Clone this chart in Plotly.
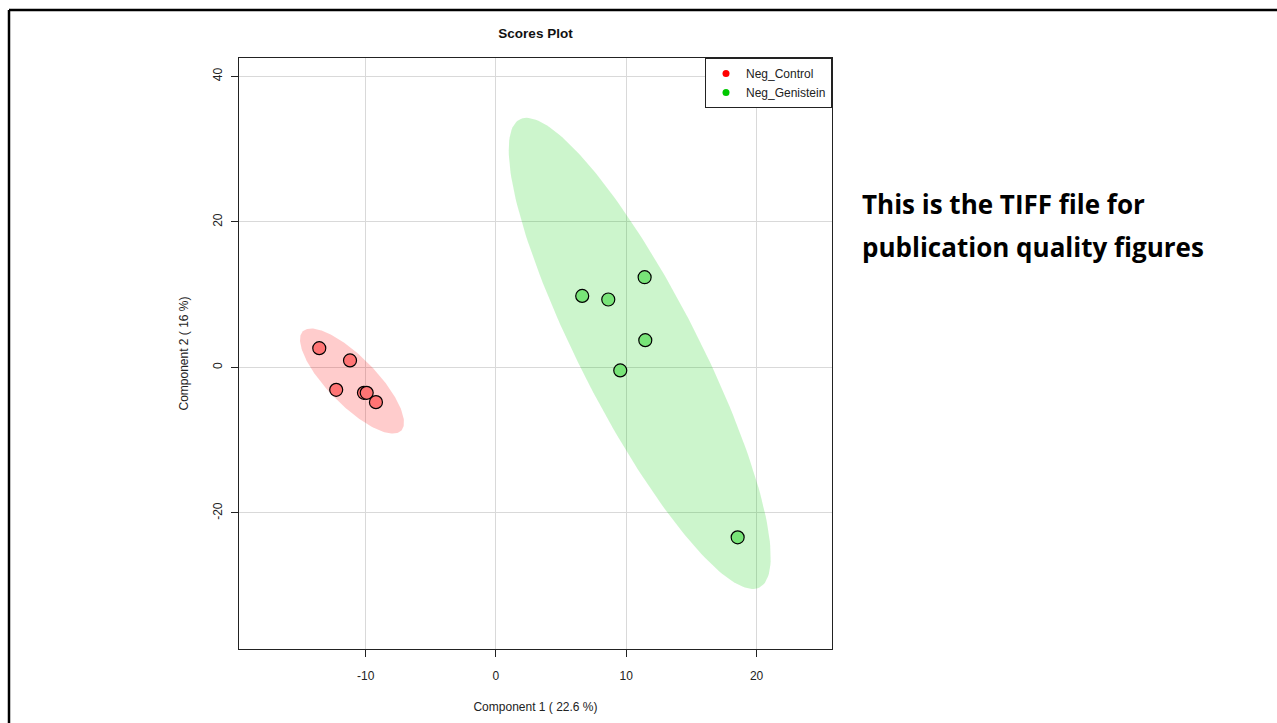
import numpy as np
import plotly.graph_objects as go

# ---- data ----
groups = ["Neg_Control", "Neg_Genistein"]
control_x = [-13.56, -11.20, -12.26, -10.13, -9.92, -9.21]
control_y = [2.65, 0.96, -3.08, -3.49, -3.49, -4.77]
genistein_x = [6.62, 8.62, 11.41, 11.46, 9.54, 18.55]
genistein_y = [9.83, 9.34, 12.40, 3.75, -0.41, -23.35]
x_ticks = [-10, 0, 10, 20]
y_ticks = [-20, 0, 20, 40]
x_tick_labels = ["-10", "0", "10", "20"]
y_tick_labels = ["-20", "0", "20", "40"]
title_text = "Scores Plot"
x_title = "Component 1 ( 22.6 %)"
y_title = "Component 2 ( 16 %)"
side_lines = ["This is the TIFF file for", "publication quality figures"]

legend_colors = ["#FF0000", "#00C800"]
point_colors = ["#FF7474", "#78E478"]
ellipse_colors = ["rgba(255,0,0,0.2)", "rgba(0,205,0,0.2)"]

W, H = 1277, 723
L, R, T, B = 239, 832, 58, 649


def conf_ellipse(xs, ys, level=0.95, n=200):
    xs = np.asarray(xs, float)
    ys = np.asarray(ys, float)
    cov = np.cov(np.vstack([xs, ys]))
    centre = np.array([xs.mean(), ys.mean()])
    t = np.sqrt(-2.0 * np.log(1.0 - level))
    vals, vecs = np.linalg.eigh(cov)
    th = np.linspace(0, 2 * np.pi, n)
    circ = np.vstack([np.cos(th), np.sin(th)])
    pts = centre[:, None] + t * (vecs @ (np.sqrt(vals)[:, None] * circ))
    return pts[0], pts[1]


fig = go.Figure()

series = [(control_x, control_y), (genistein_x, genistein_y)]
for i, (xs, ys) in enumerate(series):
    ex, ey = conf_ellipse(xs, ys)
    fig.add_trace(go.Scatter(x=ex, y=ey, mode="lines", fill="toself",
                             fillcolor=ellipse_colors[i], line=dict(width=0),
                             showlegend=False, hoverinfo="skip"))
for i, (xs, ys) in enumerate(series):
    fig.add_trace(go.Scatter(x=xs, y=ys, mode="markers", name=groups[i],
                             marker=dict(size=13, color=point_colors[i],
                                         line=dict(color="black", width=1.2)),
                             showlegend=False))
# legend entries (solid dots)
for i, g in enumerate(groups):
    fig.add_trace(go.Scatter(x=[None], y=[None], mode="markers", name=g,
                             marker=dict(size=7, color=legend_colors[i])))

pw = R - L
ph = B - T


def px_x(p):
    return (p - L) / pw


def px_y(p):
    return (B - p) / ph


fig.update_layout(
    width=W, height=H,
    margin=dict(l=L, r=W - R, t=T, b=H - B, pad=0),
    paper_bgcolor="white", plot_bgcolor="white",
    font=dict(family="Liberation Sans, Arial, sans-serif", size=12, color="#222"),
    title=dict(text="<b>" + title_text + "</b>", x=0.5, xref="paper",
               y=1 - 33 / H, yref="container", yanchor="middle",
               font=dict(size=13.5, color="#111")),
    xaxis=dict(range=[-19.72, 25.79], tickvals=x_ticks, ticktext=x_tick_labels,
               showgrid=True, gridcolor="#D9D9D9", gridwidth=1, zeroline=False,
               showline=True, linecolor="#222", linewidth=1, mirror=True,
               ticks="outside", ticklen=7, tickcolor="#222",
               tickfont=dict(size=12), ticklabelstandoff=9,
               title=dict(text=x_title, font=dict(size=12), standoff=20)),
    yaxis=dict(range=[-38.7, 42.53], tickvals=y_ticks, ticktext=y_tick_labels,
               showgrid=True, gridcolor="#D9D9D9", gridwidth=1, zeroline=False,
               showline=True, linecolor="#222", linewidth=1, mirror=True,
               ticks="outside", ticklen=7, tickcolor="#222", tickangle=-90,
               tickfont=dict(size=12), ticklabelstandoff=4,
               title=dict(text=y_title, font=dict(size=12), standoff=20)),
    legend=dict(x=1, y=1, xanchor="right", yanchor="top",
                bordercolor="#222", borderwidth=1, bgcolor="white",
                font=dict(size=12), itemwidth=30, tracegroupgap=0),
    showlegend=True,
)

# outer black frame (top and left edges)
fig.add_shape(type="line", xref="paper", yref="paper",
              x0=px_x(9), x1=px_x(W + 5), y0=px_y(10), y1=px_y(10),
              line=dict(color="black", width=2.5))
fig.add_shape(type="line", xref="paper", yref="paper",
              x0=px_x(9), x1=px_x(9), y0=px_y(10), y1=px_y(H + 5),
              line=dict(color="black", width=2.5))

for k, (txt, cy) in enumerate(zip(side_lines, [204, 247])):
    fig.add_annotation(text="<b>" + txt + "</b>", xref="paper", yref="paper",
                       x=px_x(860), y=px_y(cy), xanchor="left", yanchor="middle",
                       showarrow=False,
                       font=dict(family="Open Sans, sans-serif", size=26,
                                 color="black"))

fig.write_html("out.html")
